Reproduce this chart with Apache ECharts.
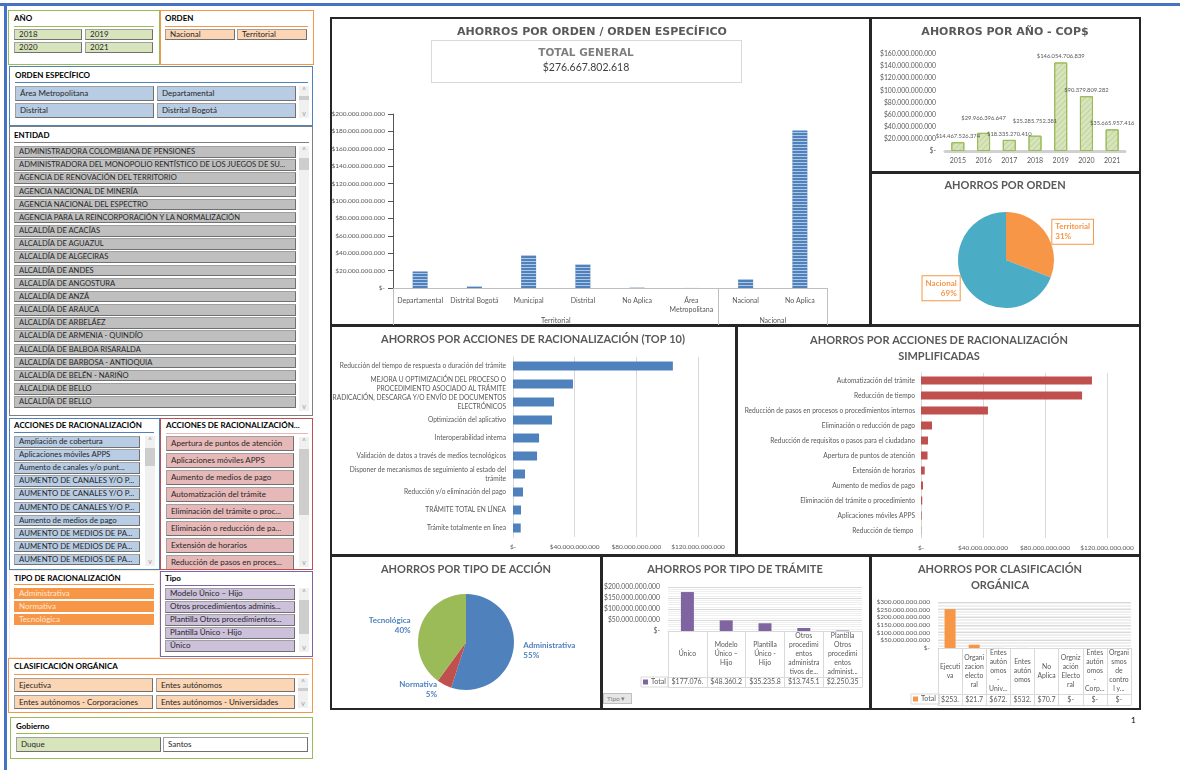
<!DOCTYPE html>
<html>
<head>
<meta charset="utf-8">
<script src="https://cdn.jsdelivr.net/npm/echarts@6/dist/echarts.min.js"></script>
<style>
body{margin:0;background:#fff;}
#page{position:relative;width:1180px;height:770px;overflow:hidden;font-family:Lato,'Noto Sans',sans-serif;}
.abs{position:absolute;box-sizing:border-box;}
.frame{border:2px solid #262626;}
.stitle{font-size:8px;font-weight:bold;color:#000;line-height:10px;white-space:nowrap;}
.btn{font-size:8px;color:#262626;border:1px solid #a0a0a0;border-right-color:#707070;border-bottom-color:#707070;padding-left:4px;white-space:nowrap;overflow:hidden;}
.arrow{font-size:7px;color:#999;text-align:center;line-height:9px;width:10px;}
#main{position:absolute;left:0;top:0;width:1180px;height:770px;}
</style>
</head>
<body>
<div id="page">
  <div class="abs" style="left:0;top:3px;width:1180px;height:3px;background:#4472c4"></div>
  <div class="abs" style="left:4px;top:3px;width:3px;height:767px;background:#4472c4"></div>
  <div id="slicers"></div>
  <!-- marcos de los graficos -->
  <div class="abs frame" style="left:330px;top:17px;width:542px;height:310px"></div>
  <div class="abs frame" style="left:869px;top:17px;width:272px;height:157px"></div>
  <div class="abs frame" style="left:869px;top:171px;width:272px;height:156px"></div>
  <div class="abs frame" style="left:330px;top:324px;width:408px;height:233px"></div>
  <div class="abs frame" style="left:735px;top:324px;width:406px;height:233px"></div>
  <div class="abs frame" style="left:330px;top:554px;width:273px;height:156px"></div>
  <div class="abs frame" style="left:600px;top:554px;width:272px;height:156px"></div>
  <div class="abs frame" style="left:869px;top:554px;width:272px;height:156px"></div>
  <div class="abs" style="left:431px;top:40px;width:311px;height:43px;border:1px solid #d9d9d9"></div>
  <div class="abs" style="left:603px;top:693px;width:29px;height:11px;background:#e6e6e6;border:1px solid #bfbfbf;font-size:6.5px;color:#7f7f7f;line-height:9px;padding-left:3px">Tipo ▾</div>
  <div class="abs" style="left:1131px;top:715px;font-size:8px;color:#000">1</div>
  <div id="main"></div>
</div>
<script>
// ---- datos ----
// ahorros por orden / orden especifico
var ordenEspCats = ['Departamental', 'Distrital Bogotá', 'Municipal', 'Distrital', 'No Aplica', 'Área\nMetropolitana', 'Nacional', 'No Aplica'];
var ordenEspValues = [19.0e9, 1.6e9, 37.5e9, 27.0e9, 0.4e9, 0.05e9, 10.0e9, 181.0e9];
var ordenGroups = ['Territorial', 'Nacional'];
var ordenGroupSizes = [6, 2];
var totalGeneral = 276667802618;

// ahorros por año
var years = ['2015', '2016', '2017', '2018', '2019', '2020', '2021'];
var yearValues = [14467526374, 29966396647, 18335270410, 25285752381, 146054706839, 90379809282, 35665957416];

// ahorros por orden
var ordenNames = ['Territorial', 'Nacional'];
var ordenValues = [85.6e9, 191.07e9];

// acciones de racionalizacion (top 10)
var accionesCats = [
  'Reducción del tiempo de respuesta o duración del trámite',
  'MEJORA U OPTIMIZACIÓN DEL PROCESO O\nPROCEDIMIENTO ASOCIADO AL TRÁMITE',
  'RADICACIÓN, DESCARGA Y/O ENVÍO DE DOCUMENTOS\nELECTRÓNICOS',
  'Optimización del aplicativo',
  'Interoperabilidad interna',
  'Validación de datos a través de medios tecnológicos',
  'Disponer de mecanismos de seguimiento al estado del\ntrámite',
  'Reducción y/o eliminación del pago',
  'TRÁMITE TOTAL EN LÍNEA',
  'Trámite totalmente en línea'
];
var accionesValues = [103.7e9, 38.9e9, 26.6e9, 25.3e9, 16.9e9, 15.6e9, 7.8e9, 6.5e9, 5.2e9, 5.0e9];

// acciones simplificadas
var simpCats = [
  'Automatización del trámite',
  'Reducción de tiempo',
  'Reducción de pasos en procesos o procedimientos internos',
  'Eliminación o reducción de pago',
  'Reducción de requisitos o pasos para el ciudadano',
  'Apertura de puntos de atención',
  'Extensión de horarios',
  'Aumento de medios de pago',
  'Eliminación del trámite o procedimiento',
  'Aplicaciones móviles APPS',
  'Reducción de tiempo '
];
var simpValues = [110.3e9, 103.9e9, 43.2e9, 7.1e9, 4.5e9, 4.2e9, 2.4e9, 1.3e9, 0.8e9, 0.4e9, 0.15e9];

// tipo de accion
var tipoAccionNames = ['Administrativa', 'Normativa', 'Tecnológica'];
var tipoAccionValues = [152.2e9, 13.8e9, 110.7e9];

// tipo de tramite
var tramiteCats = ['Único', 'Modelo\nÚnico –\nHijo', 'Plantilla\nÚnico -\nHijo', 'Otros\nprocedimi\nentos\nadministra\ntivos de...', 'Plantilla\nOtros\nprocedimi\nentos\nadminist...'];
var tramiteValues = [177076450000, 48360230000, 35235810000, 13745120000, 2250350000];

// clasificacion organica
var clasCats = ['Ejecuti\nva', 'Organi\nzacion\nelecto\nral', 'Entes\nautón\nomos\n-\nUniv...', 'Entes\nautón\nomos', 'No\nAplica', 'Orgniz\nación\nElecto\nral', 'Entes\nautón\nomos\n-\nCorp...', 'Organi\nsmos\nde\ncontro\nl y...'];
var clasValues = [253690000000, 21700000000, 672000000, 532000000, 70700000, 0, 0, 0];

// ---- segmentaciones (html) ----
var slicers = [
  {box: [8, 10, 152, 55], color: '#9bbb59', title: 'AÑO', ty: 13, line: [14, 26, 140], fill: '#d8e4bc', grid: [14, 29, 68, 11, 71, 13, 2], items: ['2018', '2019', '2020', '2021']},
  {box: [160, 10, 154, 55], color: '#f79646', title: 'ORDEN', ty: 13, line: [165, 26, 143], fill: '#fcd5b4', grid: [165, 29, 70, 11, 72, 13, 2], items: ['Nacional', 'Territorial']},
  {box: [9, 66, 304, 60], color: '#4f81bd', title: 'ORDEN ESPECÍFICO', ty: 70, line: [15, 82, 293], fill: '#b8cce4', grid: [15, 86, 139, 15, 142, 17, 2], items: ['Área Metropolitana', 'Departamental', 'Distrital', 'Distrital Bogotá'], sb: [299, 86, 32, 10, 4]},
  {box: [9, 126, 304, 290], color: '#7f7f7f', title: 'ENTIDAD', ty: 130, line: [14, 142, 295], fill: '#bfbfbf', size: 7.6, grid: [14, 146, 282, 11.5, 0, 13.17, 1], items: [
    'ADMINISTRADORA COLOMBIANA DE PENSIONES', 'ADMINISTRADORA DEL MONOPOLIO RENTÍSTICO DE LOS JUEGOS DE SU...', 'AGENCIA DE RENOVACIÓN DEL TERRITORIO',
    'AGENCIA NACIONAL DE MINERÍA', 'AGENCIA NACIONAL DEL ESPECTRO', 'AGENCIA PARA LA REINCORPORACIÓN Y LA NORMALIZACIÓN', 'ALCALDÍA DE ACACÍAS',
    'ALCALDÍA DE AGUAZUL', 'ALCALDÍA DE ALGECIRAS', 'ALCALDÍA DE ANDES', 'ALCALDÍA DE ANGOSTURA', 'ALCALDÍA DE ANZÁ', 'ALCALDÍA DE ARAUCA',
    'ALCALDÍA DE ARBELÁEZ', 'ALCALDÍA DE ARMENIA - QUINDÍO', 'ALCALDÍA DE BALBOA RISARALDA', 'ALCALDÍA DE BARBOSA - ANTIOQUIA',
    'ALCALDÍA DE BELÉN - NARIÑO', 'ALCALDIA DE BELLO', 'ALCALDÍA DE BELLO'], sb: [299, 146, 265, 12, 12]},
  {box: [9, 418, 151, 152], color: '#4f81bd', title: 'ACCIONES DE RACIONALIZACIÓN', ty: 420, line: [14, 432, 140], fill: '#b8cce4', size: 7.8, grid: [14, 436, 126, 11.5, 0, 13.1, 1], items: [
    'Ampliación de cobertura', 'Aplicaciones móviles APPS', 'Aumento de canales y/o punt...', 'AUMENTO DE CANALES Y/O P...', 'AUMENTO DE CANALES Y/O P...',
    'AUMENTO DE CANALES Y/O P...', 'Aumento de medios de pago', 'AUMENTO DE MEDIOS DE PA...', 'AUMENTO DE MEDIOS DE PA...', 'AUMENTO DE MEDIOS DE PA...'], sb: [145, 436, 130, 12, 18]},
  {box: [160, 418, 153, 152], color: '#c0504d', lineColor: '#e6b9b8', title: 'ACCIONES DE RACIONALIZACIÓN...', ty: 420, line: [166, 433, 142], fill: '#e6b9b8', grid: [166, 436, 128, 15, 0, 17.05, 1], items: [
    'Apertura de puntos de atención', 'Aplicaciones móviles APPS', 'Aumento de medios de pago', 'Automatización del trámite',
    'Eliminación del trámite o proc...', 'Eliminación o reducción de pa...', 'Extensión de horarios', 'Reducción de pasos en proces...'], sb: [299, 437, 130, 12, 66]},
  {box: [9, 570, 151, 88], color: '#fde9d9', lineColor: '#f79646', title: 'TIPO DE RACIONALIZACIÓN', ty: 573, line: [14, 584, 140], fill: '#f79646', text: '#fde9d9', grid: [14, 588, 140, 11, 0, 13, 1], items: ['Administrativa', 'Normativa', 'Tecnológica']},
  {box: [160, 571, 153, 86], color: '#8064a2', title: 'Tipo', ty: 573, line: [165, 585, 130], fill: '#ccc0da', grid: [165, 588, 130, 11.5, 0, 13, 1], items: [
    'Modelo Único – Hijo', 'Otros procedimientos adminis...', 'Plantilla Otros procedimientos...', 'Plantilla Único - Hijo', 'Único'], sb: [299, 588, 64, 12, 34]},
  {box: [8, 658, 305, 55], color: '#f79646', title: 'CLASIFICACIÓN ORGÁNICA', ty: 661, line: [14, 674, 295], fill: '#fcd5b4', grid: [14, 678, 139, 14, 142, 17, 2], items: [
    'Ejecutiva', 'Entes autónomos', 'Entes autónomos - Corporaciones', 'Entes autónomos - Universidades'], sb: [298, 678, 30, 10, 3]},
  {box: [10, 717, 303, 42], color: '#9bbb59', title: 'Gobierno', ty: 721, line: [16, 733, 293], fill: ['#d8e4bc', '#ffffff'], grid: [16, 737, 145, 15, 147, 17, 2], items: ['Duque', 'Santos']}
];

var host = document.getElementById('slicers');
var html = '';
slicers.forEach(function (s) {
  var bx = s.box[0], by = s.box[1];
  html += '<div class="abs" style="left:' + bx + 'px;top:' + by + 'px;width:' + s.box[2] + 'px;height:' + s.box[3] +
    'px;border:1px solid ' + s.color + ';overflow:hidden;background:#fff">';
  html += '<div class="abs stitle" style="left:' + (s.line[0] - bx - 1) + 'px;top:' + (s.ty - by - 1) + 'px">' + s.title + '</div>';
  html += '<div class="abs" style="left:' + (s.line[0] - bx - 1) + 'px;top:' + (s.line[1] - by - 1) + 'px;width:' + s.line[2] +
    'px;height:1px;background:' + (s.lineColor || s.color) + '"></div>';
  var g = s.grid;
  s.items.forEach(function (t, i) {
    var col = i % g[6], row = Math.floor(i / g[6]);
    var fill = Array.isArray(s.fill) ? s.fill[i] : s.fill;
    html += '<div class="abs btn" style="left:' + (g[0] + col * g[4] - bx - 1) + 'px;top:' + (g[1] + row * g[5] - by - 1) +
      'px;width:' + g[2] + 'px;height:' + g[3] + 'px;line-height:' + (g[3] - 2) + 'px;background:' + fill +
      (s.size ? ';font-size:' + s.size + 'px' : '') +
      (s.text ? ';color:' + s.text + ';border-color:' + fill : '') + '">' + t + '</div>';
  });
  if (s.sb) {
    var sx = s.sb[0] - bx - 1, sy = s.sb[1] - by - 1;
    html += '<div class="abs" style="left:' + sx + 'px;top:' + sy + 'px;width:10px;height:' + s.sb[2] + 'px;background:#f0f0f0"></div>';
    html += '<div class="abs" style="left:' + sx + 'px;top:' + (sy + s.sb[3]) + 'px;width:10px;height:' + s.sb[4] + 'px;background:#cdcdcd"></div>';
    html += '<div class="abs arrow" style="left:' + sx + 'px;top:' + sy + 'px">^</div>';
    html += '<div class="abs arrow" style="left:' + sx + 'px;top:' + (sy + s.sb[2] - 9) + 'px">v</div>';
  }
  html += '</div>';
});
host.innerHTML = html;

// ---- graficos ----
var fmt = function (v) {
  return v === 0 ? '$-' : '$' + String(Math.round(v)).replace(/\B(?=(\d{3})+(?!\d))/g, '.');
};
var gray = '#595959';
var lab = function (size, extra) {
  return Object.assign({fontFamily: 'Lato', fontSize: size, color: gray}, extra || {});
};
var titleStyle = {fontFamily: 'Lato', fontWeight: 'bold', fontSize: 11, color: gray};
var spacedStyle = {fontFamily: 'DejaVu Sans', fontWeight: 'bold', fontSize: 11, color: gray};
var light = '#d9d9d9';

// limites y centros de los grupos Territorial / Nacional
var groupEdges = [0], groupCenters = [];
ordenGroupSizes.forEach(function (n, i) {
  groupCenters.push(groupEdges[i] + n / 2);
  groupEdges.push(groupEdges[i] + n);
});

var tableAxes = function (gridIndex, cats, values, headH, rowH, cut) {
  return [
    {type: 'category', gridIndex: gridIndex, position: 'bottom', data: cats,
      axisLine: {onZero: false, lineStyle: {color: light}},
      axisTick: {show: true, interval: 0, length: headH + rowH, lineStyle: {color: light}},
      axisLabel: lab(6.8, {interval: 0, lineHeight: 9, verticalAlign: 'middle', margin: headH / 2})},
    {type: 'category', gridIndex: gridIndex, position: 'bottom', offset: headH, data: cats,
      axisLine: {onZero: false, lineStyle: {color: light}}, axisTick: {show: false},
      axisLabel: lab(7, {interval: 0, verticalAlign: 'middle', margin: rowH / 2,
        formatter: function (v, i) { return fmt(values[i]).slice(0, cut); }})},
    {type: 'category', gridIndex: gridIndex, position: 'bottom', offset: headH + rowH, data: cats,
      axisLine: {onZero: false, lineStyle: {color: light}}, axisTick: {show: false}, axisLabel: {show: false}}
  ];
};

var option = {
  animation: false,
  textStyle: {fontFamily: 'Lato'},
  title: [
    {text: 'AHORROS POR ORDEN / ORDEN ESPECÍFICO', left: 592, top: 27, textAlign: 'center', padding: 0, textStyle: spacedStyle},
    {text: 'TOTAL GENERAL', subtext: fmt(totalGeneral), left: 586, top: 48, textAlign: 'center', padding: 0, itemGap: 3,
      textStyle: Object.assign({}, spacedStyle, {color: '#7f7f7f', fontSize: 10.5}), subtextStyle: {fontFamily: 'Lato', fontSize: 10.5, color: '#404040'}},
    {text: 'AHORROS POR AÑO - COP$', left: 1005, top: 27, textAlign: 'center', padding: 0, textStyle: spacedStyle},
    {text: 'AHORROS POR ORDEN', left: 1005, top: 180, textAlign: 'center', padding: 0, textStyle: titleStyle},
    {text: 'AHORROS POR ACCIONES DE RACIONALIZACIÓN (TOP 10)', left: 533, top: 334, textAlign: 'center', padding: 0, textStyle: titleStyle},
    {text: 'AHORROS POR ACCIONES DE RACIONALIZACIÓN\nSIMPLIFICADAS', left: 939, top: 332, textAlign: 'center', padding: 0,
      textStyle: Object.assign({lineHeight: 16}, titleStyle)},
    {text: 'AHORROS POR TIPO DE ACCIÓN', left: 466, top: 564, textAlign: 'center', padding: 0, textStyle: titleStyle},
    {text: 'AHORROS POR TIPO DE TRÁMITE', left: 735, top: 564, textAlign: 'center', padding: 0, textStyle: titleStyle},
    {text: 'AHORROS POR CLASIFICACIÓN\nORGÁNICA', left: 1000, top: 561, textAlign: 'center', padding: 0,
      textStyle: Object.assign({lineHeight: 16}, titleStyle)}
  ],
  legend: [
    {left: 641, top: 677, selectedMode: false, padding: [1.5, 2], itemWidth: 5, itemHeight: 5, itemGap: 0,
      borderColor: light, borderWidth: 1, textStyle: lab(7, {padding: [0, 0, 0, -2]}),
      data: [{name: 'Total', icon: 'rect', itemStyle: {color: '#8064a2'}}]},
    {left: 911, top: 694, selectedMode: false, padding: [1.5, 2], itemWidth: 5, itemHeight: 5, itemGap: 0,
      borderColor: light, borderWidth: 1, textStyle: lab(7, {padding: [0, 0, 0, -2]}),
      data: [{name: 'Total ', icon: 'rect', itemStyle: {color: '#f79646'}}]}
  ],
  grid: [
    {left: 393, top: 114, width: 434, height: 174},
    {left: 945, top: 54, width: 180, height: 97},
    {left: 513, top: 357, width: 185, height: 180},
    {left: 921, top: 373, width: 186, height: 165},
    {left: 668, top: 587, width: 194, height: 44},
    {left: 938, top: 602, width: 193, height: 46}
  ],
  xAxis: [
    // 0-1 orden especifico
    {type: 'category', gridIndex: 0, position: 'bottom', data: ordenEspCats,
      axisLine: {onZero: false, lineStyle: {color: '#bfbfbf'}}, axisTick: {show: false},
      axisLabel: lab(7, {interval: 0, margin: 8, lineHeight: 9})},
    {type: 'value', gridIndex: 0, position: 'bottom', min: 0, max: groupEdges[groupEdges.length - 1],
      axisLine: {show: true, onZero: false, lineStyle: {color: '#bfbfbf'}}, splitLine: {show: false},
      axisTick: {show: true, customValues: groupEdges, length: 37, lineStyle: {color: '#bfbfbf'}},
      axisLabel: lab(7, {customValues: groupCenters, margin: 29,
        formatter: function (v) { return ordenGroups[groupCenters.indexOf(v)]; }})},
    // 2 años
    {type: 'category', gridIndex: 1, position: 'bottom', data: years,
      axisLine: {onZero: false, lineStyle: {color: '#d0d0d0', width: 3}}, axisTick: {show: false},
      axisLabel: lab(7, {margin: 6})},
    // 3 top 10
    {type: 'value', gridIndex: 2, min: 0, max: 120e9, interval: 40e9, position: 'bottom',
      axisLine: {show: false, onZero: false}, splitLine: {lineStyle: {color: light}},
      axisLabel: lab(6.5, {formatter: fmt, margin: 6})},
    // 4 simplificadas
    {type: 'value', gridIndex: 3, min: 0, max: 120e9, interval: 40e9, position: 'bottom',
      axisLine: {show: false, onZero: false}, splitLine: {lineStyle: {color: light}},
      axisLabel: lab(6.5, {formatter: fmt, margin: 6})}
  ].concat(tableAxes(4, tramiteCats, tramiteValues, 46, 10, 9), tableAxes(5, clasCats, clasValues, 46, 11, 5)),
  yAxis: [
    {type: 'value', gridIndex: 0, min: 0, max: 200e9, interval: 20e9, splitLine: {show: false},
      axisLabel: lab(6.5, {formatter: fmt, margin: 8})},
    {type: 'value', gridIndex: 1, min: 0, max: 160e9, interval: 20e9, splitLine: {show: false},
      axisLabel: lab(6.8, {formatter: fmt, margin: 9})},
    {type: 'category', gridIndex: 2, inverse: true, data: accionesCats,
      axisLine: {onZero: false, lineStyle: {color: light}}, axisTick: {show: false},
      axisLabel: lab(6.6, {interval: 0, margin: 7, lineHeight: 9})},
    {type: 'category', gridIndex: 3, inverse: true, data: simpCats,
      axisLine: {onZero: false, lineStyle: {color: light}}, axisTick: {show: false},
      axisLabel: lab(6.6, {interval: 0, margin: 6})},
    {type: 'value', gridIndex: 4, min: 0, max: 200e9, interval: 50e9,
      splitLine: {lineStyle: {color: light}}, minorSplitLine: {show: true, lineStyle: {color: '#efefef'}},
      axisLabel: lab(6.8, {formatter: fmt, margin: 8})},
    {type: 'value', gridIndex: 5, min: 0, max: 300e9, interval: 50e9,
      splitLine: {lineStyle: {color: light}}, minorSplitLine: {show: true, lineStyle: {color: '#efefef'}},
      axisLabel: lab(6.5, {formatter: fmt, margin: 8})}
  ],
  series: [
    {type: 'bar', name: 'Orden específico', xAxisIndex: 0, yAxisIndex: 0, barWidth: 15, data: ordenEspValues,
      itemStyle: {color: '#4f81bd', decal: {symbol: 'rect', symbolSize: 1, dashArrayX: [1, 0], dashArrayY: [1, 2], rotation: 0, color: 'rgba(255,255,255,0.55)'}}},
    {type: 'bar', name: 'Año', xAxisIndex: 2, yAxisIndex: 1, barWidth: 13, data: yearValues,
      itemStyle: {color: '#d7e4bd', borderColor: '#9bbb59', borderWidth: 1,
        decal: {symbol: 'rect', symbolSize: 1, dashArrayX: [1, 0], dashArrayY: [1, 3], rotation: -Math.PI / 4, color: 'rgba(155,187,89,0.35)'}},
      label: {show: true, position: 'top', distance: 3, fontFamily: 'Lato', fontSize: 5.8, color: gray,
        formatter: function (p) { return fmt(p.value); }},
      labelLayout: function (p) { return (p.dataIndex === 1 || p.dataIndex === 3) ? {dy: -9} : {}; }},
    {type: 'pie', name: 'Orden', center: [1006, 260], radius: 48, startAngle: 90,
      data: ordenNames.map(function (n, i) { return {name: n, value: ordenValues[i]}; }),
      color: ['#f79646', '#4bacc6'],
      label: {position: 'outside', fontFamily: 'Lato', fontWeight: 'bold', fontSize: 8, lineHeight: 10, color: '#f79646',
        backgroundColor: '#fff', borderColor: '#f79646', borderWidth: 1, padding: [2, 3],
        formatter: function (p) { return p.name + '\n' + Math.round(p.percent) + '%'; }},
      labelLine: {show: false, length: 2, length2: 0}},
    {type: 'bar', name: 'Acciones', xAxisIndex: 3, yAxisIndex: 2, barWidth: 9, data: accionesValues, itemStyle: {color: '#4f81bd'}},
    {type: 'bar', name: 'Simplificadas', xAxisIndex: 4, yAxisIndex: 3, barWidth: 8, data: simpValues, itemStyle: {color: '#c0504d'}},
    {type: 'pie', name: 'Tipo de acción', center: [466, 642], radius: 48, startAngle: 90,
      data: tipoAccionNames.map(function (n, i) { return {name: n, value: tipoAccionValues[i]}; }),
      color: ['#4f81bd', '#c0504d', '#9bbb59'],
      label: {position: 'outside', fontFamily: 'Lato', fontWeight: 'bold', fontSize: 8, lineHeight: 10, color: '#4f81bd',
        formatter: function (p) { return p.name + '\n' + Math.round(p.percent) + '%'; }},
      labelLine: {show: false, length: 5, length2: 0}},
    {type: 'bar', name: 'Total', xAxisIndex: 5, yAxisIndex: 4, barWidth: 13, data: tramiteValues, itemStyle: {color: '#8064a2'}},
    {type: 'bar', name: 'Total ', xAxisIndex: 8, yAxisIndex: 5, barWidth: 11, data: clasValues, itemStyle: {color: '#f79646'}}
  ]
};

var chart = echarts.init(document.getElementById('main'), null, {renderer: 'canvas'});
chart.setOption(option);
</script>
</body>
</html>
